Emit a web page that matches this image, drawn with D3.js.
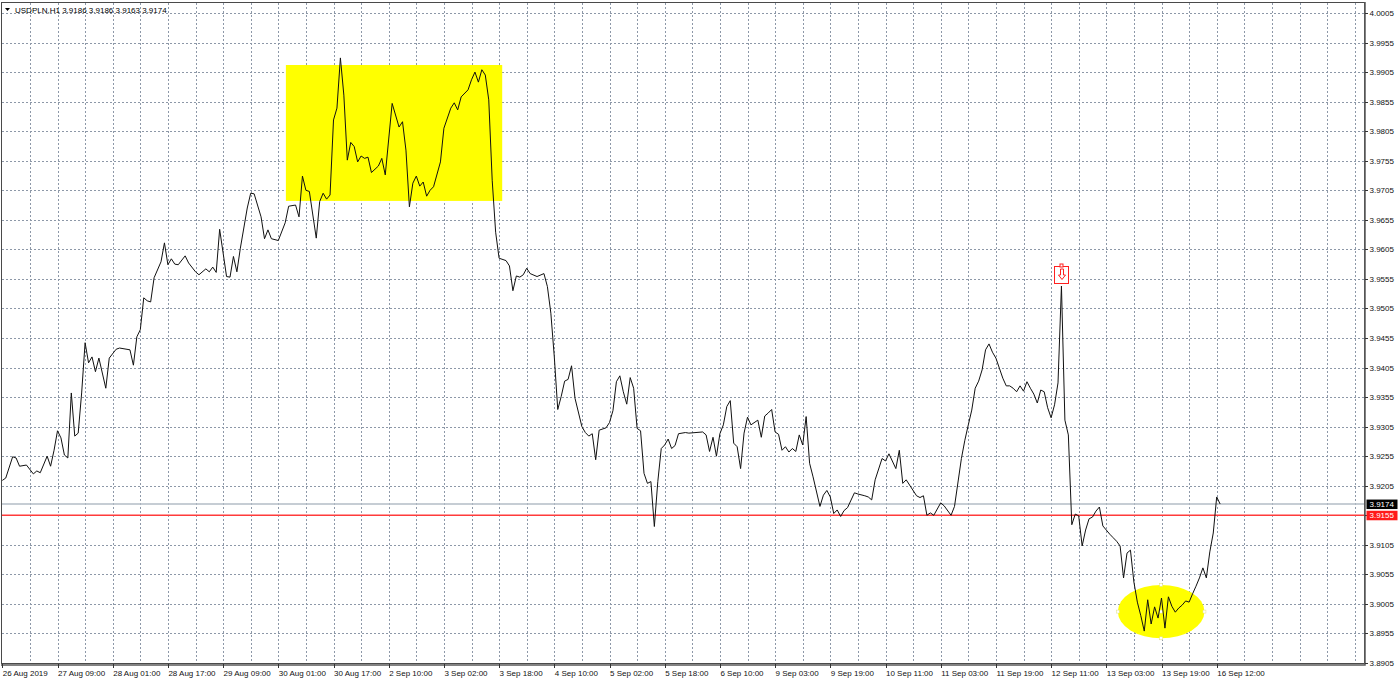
<!DOCTYPE html>
<html>
<head>
<meta charset="utf-8">
<script src="https://cdn.jsdelivr.net/npm/d3@7"></script>
<style>
  body { margin: 0; background: #fff; }
  svg { display: block; }
  text { font-family: "Liberation Sans", Arial, sans-serif; font-size: 8px; }
</style>
</head>
<body>
<svg id="chart"></svg>
<script>
// ---- data ----
var symbol = "USDPLN,H1";
var ohlc = [3.9186, 3.9186, 3.9163, 3.9174];

// bar index (H1 bars since 26 Aug 17:00) and close price at that bar
var bars = [0,1,3,4,5,7,9,10,11,13,14,15,16,17,18,19,20,21,22,23,24,25,26,27,28,30,31,33,34,37,38,39,40,41,42,43,44,46,47,48,49,50,51,53,54,56,57,59,60,61,62,63,64,65,66,67,68,69,71,72,73,75,76,77,78,80,82,83,85,86,87,88,89,91,92,93,94,95,96,97,98,99,100,101,102,103,104,105,106,107,109,110,111,113,115,116,117,118,119,120,121,122,123,124,125,127,128,130,131,132,133,135,136,137,138,139,140,141,142,143,144,146,147,148,149,150,151,152,153,155,157,158,159,160,161,162,163,164,165,166,168,169,170,171,172,173,175,176,177,178,179,180,181,182,183,184,185,186,187,188,189,190,191,192,193,194,195,196,198,199,203,204,205,206,207,208,209,210,211,212,213,214,215,216,217,219,220,221,222,223,224,225,226,227,228,229,230,231,232,233,234,235,237,238,239,240,241,242,243,244,245,247,248,250,251,252,253,255,256,257,259,260,261,262,265,266,267,268,269,270,272,273,275,276,278,279,280,281,282,283,284,285,286,287,288,289,290,291,292,293,294,295,296,297,298,299,300,301,302,303,304,305,306,307,308,309,310,311,312,313,314,315,316,317,318,319,320,321,322,323,324,325,326,327,328,329,330,331,332,333,334,335,336,337,338,339,340,341,342,343,344,345,346,347,348,349,350,351,352,353];
var closes = [3.9214,3.9218,3.9254,3.9252,3.9238,3.9240,3.9225,3.9230,3.9227,3.9255,3.9238,3.9265,3.9298,3.9286,3.9257,3.9252,3.9362,3.9289,3.9294,3.9362,3.9447,3.9413,3.9423,3.9398,3.9421,3.9370,3.9421,3.9436,3.9438,3.9435,3.9409,3.9457,3.9469,3.9523,3.9518,3.9516,3.9557,3.9584,3.9616,3.9579,3.9589,3.9580,3.9579,3.9594,3.9582,3.9567,3.9562,3.9572,3.9567,3.9575,3.9566,3.9639,3.9599,3.9559,3.9558,3.9593,3.9567,3.9607,3.9675,3.9700,3.9699,3.9660,3.9623,3.9638,3.9623,3.9620,3.9650,3.9678,3.9680,3.9660,3.9729,3.9705,3.9703,3.9624,3.9686,3.9700,3.9690,3.9697,3.9824,3.9844,3.9929,3.9866,3.9756,3.9786,3.9779,3.9753,3.9763,3.9759,3.9761,3.9735,3.9746,3.9759,3.9731,3.9852,3.9812,3.9821,3.9773,3.9677,3.9717,3.9729,3.9712,3.9719,3.9695,3.9705,3.9711,3.9753,3.9810,3.9844,3.9853,3.9841,3.9863,3.9875,3.9892,3.9905,3.9888,3.9909,3.9900,3.9858,3.9722,3.9634,3.9590,3.9586,3.9577,3.9535,3.9560,3.9558,3.9562,3.9573,3.9564,3.9559,3.9564,3.9542,3.9497,3.9423,3.9334,3.9356,3.9382,3.9385,3.9408,3.9353,3.9305,3.9295,3.9289,3.9293,3.9249,3.9299,3.9303,3.9312,3.9332,3.9381,3.9391,3.9364,3.9343,3.9388,3.9370,3.9302,3.9298,3.9226,3.9209,3.9212,3.9136,3.9212,3.9268,3.9274,3.9284,3.9268,3.9273,3.9293,3.9295,3.9294,3.9296,3.9291,3.9263,3.9287,3.9255,3.9293,3.9308,3.9339,3.9349,3.9277,3.9271,3.9234,3.9294,3.9321,3.9308,3.9316,3.9287,3.9323,3.9328,3.9334,3.9296,3.9292,3.9265,3.9271,3.9262,3.9268,3.9263,3.9291,3.9274,3.9322,3.9243,3.9220,3.9170,3.9189,3.9197,3.9186,3.9158,3.9164,3.9153,3.9163,3.9168,3.9193,3.9191,3.9188,3.9186,3.9181,3.9215,3.9251,3.9247,3.9259,3.9234,3.9265,3.9209,3.9215,3.9188,3.9185,3.9188,3.9155,3.9159,3.9155,3.9176,3.9171,3.9155,3.9170,3.9251,3.9282,3.9308,3.9333,3.9370,3.9382,3.9401,3.9435,3.9445,3.9431,3.9421,3.9404,3.9387,3.9374,3.9374,3.9370,3.9364,3.9374,3.9365,3.9381,3.9370,3.9360,3.9345,3.9367,3.9364,3.9337,3.9320,3.9342,3.9379,3.9543,3.9316,3.9291,3.9139,3.9157,3.9154,3.9103,3.9130,3.9149,3.9152,3.9162,3.9169,3.9137,3.9130,3.9123,3.9117,3.9111,3.9103,3.9049,3.9091,3.9096,3.9042,3.9008,3.8985,3.8959,3.9012,3.8971,3.9000,3.8981,3.9015,3.8964,3.9017,3.9001,3.8991,3.8998,3.9003,3.9010,3.9008,3.9022,3.9035,3.9049,3.9066,3.9049,3.9093,3.9125,3.9186,3.9174];

var priceTicks = ["4.0005","3.9955","3.9905","3.9855","3.9805","3.9755","3.9705","3.9655","3.9605","3.9555","3.9505","3.9455","3.9405","3.9355","3.9305","3.9255","3.9205","3.9155","3.9105","3.9055","3.9005","3.8955","3.8905"];
var timeLabels = ["26 Aug 2019","27 Aug 09:00","28 Aug 01:00","28 Aug 17:00","29 Aug 09:00","30 Aug 01:00","30 Aug 17:00","2 Sep 10:00","3 Sep 02:00","3 Sep 18:00","4 Sep 10:00","5 Sep 02:00","5 Sep 18:00","6 Sep 10:00","9 Sep 03:00","9 Sep 19:00","10 Sep 11:00","11 Sep 03:00","11 Sep 19:00","12 Sep 11:00","13 Sep 03:00","13 Sep 19:00","16 Sep 12:00"];
var labelStep = 16;   // bars between time labels
var gridStep = 8;     // bars between vertical grid lines

var bidPrice = 3.9174;
var alertPrice = 3.9155;
var alertBar = 307;

// drawn objects (time in bars, price)
var zoneRect = [82.2, 144.9, 3.9917, 3.9687];
var zoneEllipse = [335.9, 3.8992, 12.55, 0.00452];

// ---- layout ----
var width = 1400, height = 684;
var plotLeft = 2, plotTop = 3, plotRight = 1365, plotBottom = 664;
var gridColor = "#8d98a8";

var svg = d3.select('#chart')
    .attr('width', width)
    .attr('height', height)
    .attr('viewBox', `0 0 ${width} ${height}`);

var x = d3.scaleLinear().domain([0, 352]).range([2.3, 1216.7]);
var y = d3.scaleLinear().domain([3.8905, 4.0005]).range([663, 13]);

function crisp(v) { return Math.round(v) + 0.5; }

// grid
var grid = svg.append('g')
    .attr('stroke', gridColor)
    .attr('stroke-width', 1)
    .attr('stroke-dasharray', '2,2')
    .attr('shape-rendering', 'crispEdges');

grid.selectAll('line.h')
    .data(priceTicks)
    .join('line')
    .attr('class', 'h')
    .attr('x1', plotLeft)
    .attr('x2', plotRight)
    .attr('y1', d => crisp(y(+d)))
    .attr('y2', d => crisp(y(+d)));

var gridBars = d3.range(gridStep, 400, gridStep).filter(b => x(b) < plotRight - 3);
grid.selectAll('line.v')
    .data(gridBars)
    .join('line')
    .attr('class', 'v')
    .attr('x1', d => crisp(x(d)))
    .attr('x2', d => crisp(x(d)))
    .attr('y1', plotTop)
    .attr('y2', plotBottom);

// yellow objects
svg.append('rect')
    .attr('x', x(zoneRect[0]))
    .attr('y', y(zoneRect[2]))
    .attr('width', x(zoneRect[1]) - x(zoneRect[0]))
    .attr('height', y(zoneRect[3]) - y(zoneRect[2]))
    .attr('fill', '#ffff00');

var ecx = x(zoneEllipse[0]), ecy = y(zoneEllipse[1]);
var erx = x(zoneEllipse[0] + zoneEllipse[2]) - ecx;
var ery = y(zoneEllipse[1] - zoneEllipse[3]) - ecy;
svg.append('ellipse')
    .attr('cx', ecx).attr('cy', ecy)
    .attr('rx', erx).attr('ry', ery)
    .attr('fill', '#ffff00');

svg.selectAll('rect.handle')
    .data([[ecx - erx, ecy], [ecx + erx, ecy], [ecx, ecy - ery], [ecx, ecy + ery], [ecx, ecy]])
    .join('rect')
    .attr('class', 'handle')
    .attr('x', d => d[0] - 1.5).attr('y', d => d[1] - 1.5)
    .attr('width', 3).attr('height', 3)
    .attr('fill', '#fff')
    .attr('stroke', '#e0e080')
    .attr('stroke-width', 0.5);

// bid and alert lines
svg.append('line')
    .attr('x1', plotLeft).attr('x2', plotRight)
    .attr('y1', y(bidPrice)).attr('y2', y(bidPrice))
    .attr('stroke', '#b3bcc6')
    .attr('stroke-width', 1.6);

svg.append('line')
    .attr('x1', plotLeft).attr('x2', plotRight)
    .attr('y1', y(alertPrice)).attr('y2', y(alertPrice))
    .attr('stroke', '#ff3b3b')
    .attr('stroke-width', 1.3);

// price line
var line = d3.line()
    .x((d, i) => x(bars[i]))
    .y(d => y(d));

svg.append('path')
    .attr('d', line(closes))
    .attr('fill', 'none')
    .attr('stroke', '#111')
    .attr('stroke-width', 1)
    .attr('stroke-linejoin', 'miter');

// alert arrow marker above the spike
var ax = x(alertBar), ay = y(closes[bars.indexOf(alertBar)]);
var marker = svg.append('g')
    .attr('transform', `translate(${Math.round(ax) + 1},${Math.round(ay) - 2})`)
    .attr('fill', 'none')
    .attr('stroke', '#ff2020')
    .attr('stroke-width', 1);
marker.append('rect')
    .attr('x', -7.5).attr('y', -17.5)
    .attr('width', 14).attr('height', 17)
    .attr('fill', '#fff');
marker.append('path')
    .attr('d', 'M-1.5,-15 L1.5,-15 L1.5,-9 L3.5,-9 L0,-4.5 L-3.5,-9 L-1.5,-9 Z');
marker.append('rect')
    .attr('x', -2).attr('y', -20)
    .attr('width', 3).attr('height', 3)
    .attr('fill', '#fff');

// frame
svg.append('rect')
    .attr('x', plotLeft - 0.5).attr('y', plotTop - 0.5)
    .attr('width', plotRight - plotLeft)
    .attr('height', plotBottom - plotTop)
    .attr('fill', 'none')
    .attr('stroke', '#4a4a4a')
    .attr('stroke-width', 1);
svg.append('path')
    .attr('d', `M${plotRight},${plotTop - 1} V${plotBottom + 1} H${plotLeft - 1}`)
    .attr('fill', 'none')
    .attr('stroke', '#5a5a5a')
    .attr('stroke-width', 1.5);

// price axis
var yAxis = svg.append('g');
yAxis.selectAll('line')
    .data(priceTicks)
    .join('line')
    .attr('x1', plotRight).attr('x2', plotRight + 3)
    .attr('y1', d => crisp(y(+d))).attr('y2', d => crisp(y(+d)))
    .attr('stroke', '#333');
yAxis.selectAll('text')
    .data(priceTicks)
    .join('text')
    .attr('x', plotRight + 4.5)
    .attr('y', d => y(+d) + 3)
    .attr('fill', '#111')
    .text(d => d);

// time axis
var xAxis = svg.append('g');
xAxis.selectAll('line')
    .data(timeLabels)
    .join('line')
    .attr('x1', (d, i) => crisp(x(i * labelStep)))
    .attr('x2', (d, i) => crisp(x(i * labelStep)))
    .attr('y1', plotBottom).attr('y2', plotBottom + 4)
    .attr('stroke', '#333');
xAxis.selectAll('text')
    .data(timeLabels)
    .join('text')
    .attr('x', (d, i) => x(i * labelStep) + 0.5)
    .attr('y', 676)
    .attr('fill', '#111')
    .text(d => d);

// price labels for bid and alert lines
function priceTag(price, bg) {
    var g = svg.append('g');
    g.append('rect')
        .attr('x', plotRight + 1.5).attr('y', y(price) - 4.5)
        .attr('width', 31).attr('height', 9.5)
        .attr('fill', bg);
    g.append('text')
        .attr('x', plotRight + 4.5)
        .attr('y', y(price) + 3)
        .attr('fill', '#fff')
        .text(price.toFixed(4));
}
priceTag(bidPrice, '#000');
priceTag(alertPrice, '#ff1a1a');

// header
svg.append('path')
    .attr('d', 'M5,8 L10,8 L7.5,11 Z')
    .attr('fill', '#000');
svg.append('text')
    .attr('x', 15).attr('y', 13)
    .attr('fill', '#000')
    .text(symbol + '  ' + ohlc.map(v => v.toFixed(4)).join(' '));
</script>
</body>
</html>
